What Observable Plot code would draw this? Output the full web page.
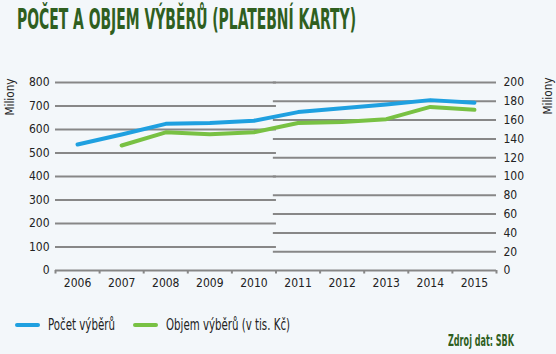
<!DOCTYPE html>
<html>
<head>
<meta charset="utf-8">
<script src="https://cdn.jsdelivr.net/npm/d3@7"></script>
<script src="https://cdn.jsdelivr.net/npm/@observablehq/plot@0.6"></script>
<style>
  html, body { margin:0; padding:0; background:#f3f7fa; }
  #wrap { position:relative; width:556px; height:354px; background:#f3f7fa; overflow:hidden;
          font-family:"DejaVu Sans Condensed",sans-serif; color:#222; }
  .fit { position:absolute; white-space:nowrap; transform-origin:0 0; }
  #title { left:17px; top:3px; font-weight:bold; font-size:28px; color:#2f5f1f; }
  #chart { position:absolute; left:0; top:50px; }
  .ylab { position:absolute; font-size:13px; white-space:nowrap; transform:translate(-50%,-50%) rotate(-90deg) scaleX(0.9); }
  .sw { position:absolute; top:323px; width:25px; height:4px; border-radius:2px; }
  .legtxt { top:316px; font-size:15px; }
  #src { top:332px; font-weight:bold; font-size:15px; color:#2f5f1f; }
</style>
</head>
<body>
<div id="wrap">
  <div id="title" class="fit" data-w="339">POČET A OBJEM VÝBĚRŮ (PLATEBNÍ KARTY)</div>
  <div id="chart"></div>
  <div class="ylab" style="left:9px; top:97px;">Miliony</div>
  <div class="ylab" style="left:547px; top:96px;">Miliony</div>
  <span class="sw" style="left:15px; background:#1fa0e0"></span>
  <div class="fit legtxt" style="left:48px;" data-w="67">Počet výběrů</div>
  <span class="sw" style="left:133px; background:#78c143"></span>
  <div class="fit legtxt" style="left:166px;" data-w="124">Objem výběrů (v tis. Kč)</div>
  <div id="src" class="fit" style="left:448px;" data-w="66">Zdroj dat: SBK</div>
</div>
<script>
const years = [2006, 2007, 2008, 2009, 2010, 2011, 2012, 2013, 2014, 2015];
const pocetVyberu = [536, 579, 624, 628, 637, 674, 690, 706, 725, 714];
const objemYears = [2007, 2008, 2009, 2010, 2011, 2012, 2013, 2014, 2015];
const objemVyberu = [133, 147, 145, 147, 157, 158, 161, 174, 171];
const leftTicks = [0, 100, 200, 300, 400, 500, 600, 700, 800];
const rightTicks = [0, 20, 40, 60, 80, 100, 120, 140, 160, 180, 200];

const ratio = 4; // right axis (0-200) mapped onto left axis (0-800)
const pocetData = years.map((y, i) => ({year: y, value: pocetVyberu[i]}));
const objemData = objemYears.map((y, i) => ({year: y, value: objemVyberu[i] * ratio}));
const edges = [...years.map(y => y - 0.5), years[years.length - 1] + 0.5];
const grid = "#878787";

const chart = Plot.plot({
  width: 556,
  height: 250,
  marginLeft: 55,
  marginRight: 60,
  marginTop: 32,
  marginBottom: 30,
  x: {type: "linear", domain: [2005.5, 2015.5]},
  y: {domain: [0, 800]},
  style: {background: "transparent", fontFamily: "'DejaVu Sans Condensed',sans-serif", fontSize: "12px", color: "#222"},
  marks: [
    Plot.ruleY(leftTicks.filter(d => d > 0), {x1: 2005.5, x2: 2010.51, stroke: grid, strokeWidth: 2}),
    Plot.ruleY(rightTicks.filter(d => d > 0).map(d => d * ratio), {x1: 2010.44, x2: 2015.5, stroke: grid, strokeWidth: 2}),
    Plot.ruleY([0], {x1: 2005.5, x2: 2015.5, stroke: grid, strokeWidth: 2}),
    Plot.ruleX(edges, {y1: 0, y2: -15, stroke: grid, strokeWidth: 2}),
    Plot.axisX(years, {tickSize: 0, tickPadding: 8, tickFormat: d => String(d), label: null}),
    Plot.axisY(leftTicks, {anchor: "left", tickSize: 0, tickPadding: 6, label: null}),
    Plot.axisY(rightTicks.map(d => d * ratio), {anchor: "right", tickSize: 0, tickPadding: 7, tickFormat: d => String(d / ratio), label: null}),
    Plot.line(pocetData, {x: "year", y: "value", stroke: "#1fa0e0", strokeWidth: 4, strokeLinecap: "round", strokeLinejoin: "round"}),
    Plot.line(objemData, {x: "year", y: "value", stroke: "#78c143", strokeWidth: 4, strokeLinecap: "round", strokeLinejoin: "round"})
  ]
});
document.getElementById("chart").appendChild(chart);

// fit condensed texts to the reference widths
document.querySelectorAll(".fit").forEach(el => {
  const w = el.getBoundingClientRect().width;
  el.style.transform = `scaleX(${(+el.dataset.w) / w})`;
});
</script>
</body>
</html>
